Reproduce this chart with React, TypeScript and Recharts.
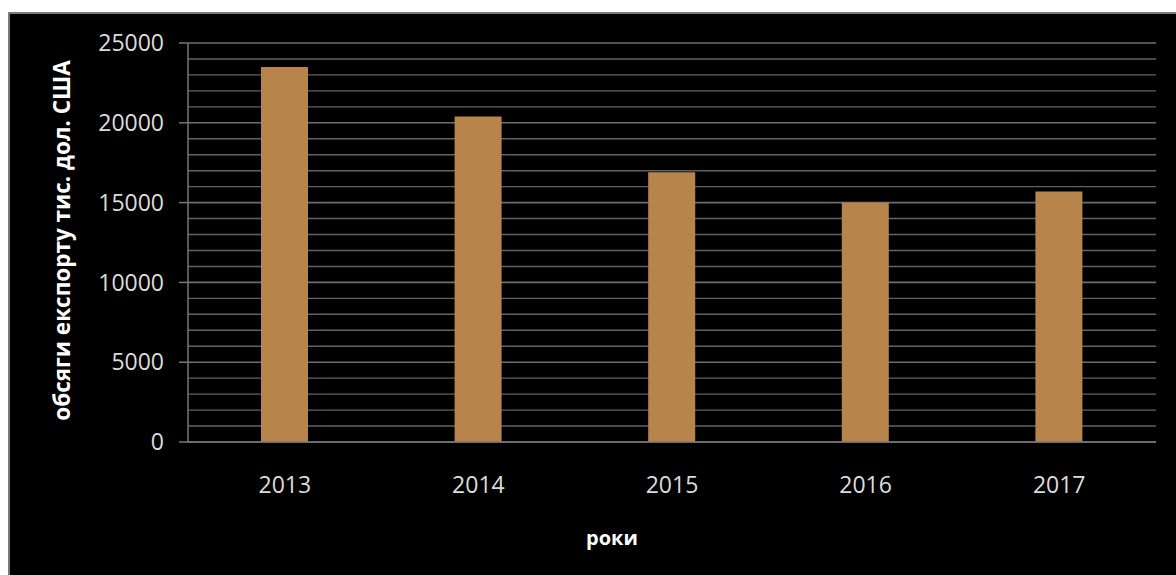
import React from 'react';
import { BarChart, Bar, XAxis, YAxis, CartesianGrid } from 'recharts';

const years = ['2013', '2014', '2015', '2016', '2017'];
const exportVolumes = [23500, 20400, 16900, 15000, 15700];
const yTicks = [0, 5000, 10000, 15000, 20000, 25000];
const minorGrid = [1000, 2000, 3000, 4000, 6000, 7000, 8000, 9000, 11000, 12000, 13000, 14000, 16000, 17000, 18000, 19000, 21000, 22000, 23000, 24000];
const yTitle = 'обсяги експорту тис. дол. США';
const xTitle = 'роки';

const data = years.map((y, i) => ({ year: y, value: exportVolumes[i] }));

const FONT = '"Open Sans", "DejaVu Sans", sans-serif';

export default function App() {
  return (
    <div>
      <style>{`body{overflow:hidden;margin:0;background:#fff}`}</style>
      <div
        style={{
          position: 'absolute',
          left: 8,
          top: 12,
          width: 1166,
          height: 561,
          background: '#000',
          borderLeft: '2px solid #7a7a7a',
          borderTop: '2px solid #7a7a7a',
        }}
      >
        <BarChart
          width={1166}
          height={561}
          data={data}
          margin={{ top: 29, right: 20, left: 0, bottom: 0 }}
          barCategoryGap={0}
        >
          <CartesianGrid
            vertical={false}
            horizontalValues={minorGrid}
            stroke="#626262"
            strokeWidth={1.4}
          />
          <CartesianGrid
            vertical={false}
            horizontalValues={yTicks}
            stroke="#6e6e6e"
            strokeWidth={1.6}
          />
          <XAxis
            dataKey="year"
            height={133}
            axisLine={{ stroke: '#777', strokeWidth: 1.5 }}
            tickLine={false}
            tickSize={0}
            tickMargin={35}
            tick={{ fill: '#dcdcdc', fontSize: 23, fontFamily: FONT }}
            label={{
              content: ({ viewBox }: any) => (
                <text
                  x={612 - 10}
                  y={viewBox.y + 95}
                  fill="#fff"
                  fontSize={20}
                  fontWeight="bold"
                  fontFamily={FONT}
                  textAnchor="middle"
                  dominantBaseline="central"
                >
                  {xTitle}
                </text>
              ),
            }}
          />
          <YAxis
            width={178}
            domain={[0, 25000]}
            ticks={yTicks}
            interval={0}
            axisLine={{ stroke: '#777', strokeWidth: 1.5 }}
            tickLine={{ stroke: '#777', strokeWidth: 1.5 }}
            tickSize={9}
            tickMargin={15}
            tick={{ fill: '#dcdcdc', fontSize: 23, fontFamily: FONT }}
            label={{
              content: ({ viewBox }: any) => {
                const cx = 51;
                const cy = viewBox.y + viewBox.height / 2 - 2;
                return (
                  <text
                    x={cx}
                    y={cy}
                    transform={`rotate(-90, ${cx}, ${cy})`}
                    fill="#fff"
                    fontSize={22.5}
                    fontWeight="bold"
                    fontFamily={FONT}
                    textAnchor="middle"
                    dominantBaseline="central"
                  >
                    {yTitle}
                  </text>
                );
              },
            }}
          />
          <Bar dataKey="value" fill="#B7854B" barSize={47} isAnimationActive={false} />
        </BarChart>
      </div>
    </div>
  );
}
